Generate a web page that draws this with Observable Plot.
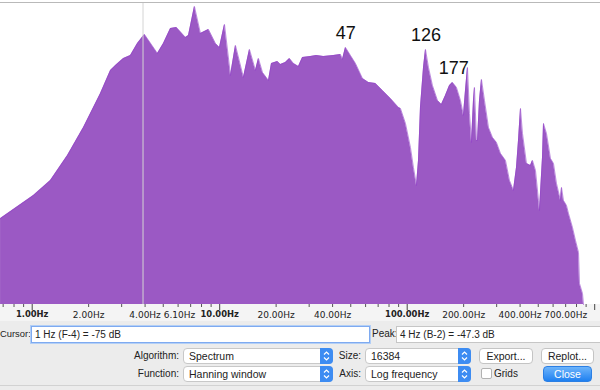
<!DOCTYPE html>
<html><head><meta charset="utf-8">
<script src="https://cdn.jsdelivr.net/npm/d3@7"></script>
<script src="https://cdn.jsdelivr.net/npm/@observablehq/plot@0.6"></script>
<style>
html,body{margin:0;padding:0;}
body{width:600px;height:390px;background:#ececec;position:relative;overflow:hidden;font-family:"Liberation Sans",Arial,sans-serif;font-size:10px;color:#222;}
#chartbg{position:absolute;left:0;top:0;width:600px;height:304px;background:#fff;}
#axisbg{position:absolute;left:0;top:304px;width:600px;height:17px;background:#f4f4f4;}
#topline{position:absolute;left:0;top:2px;width:600px;height:1px;background:#b9b9b9;z-index:2;}
#chart{position:absolute;left:0;top:0;z-index:1;}
.lbl{position:absolute;white-space:nowrap;line-height:16px;height:16px;}
.box{position:absolute;background:#fff;box-sizing:border-box;border:1px solid #c6c6c6;line-height:15px;padding-left:3px;white-space:nowrap;font-size:10px;}
.sel{position:absolute;background:#fff;box-sizing:border-box;border:1px solid #c8c8c8;border-radius:4px;height:16px;line-height:14px;padding-left:5px;font-size:10.5px;white-space:nowrap;}
.step{position:absolute;right:-1px;top:-1px;width:13px;height:16px;background:#3d8cf2;border-radius:0 4px 4px 0;}
.step svg{display:block;}
.btn{position:absolute;background:#fff;box-sizing:border-box;border:1px solid #c4c4c4;border-radius:4px;height:16px;line-height:14px;text-align:center;font-size:10.5px;}
.close{background:linear-gradient(#6db4fb,#1f80f0);border-color:#2b7fe4;color:#fff;}
.chk{position:absolute;box-sizing:border-box;width:11px;height:11px;background:#fff;border:1px solid #b2b2b2;border-radius:2px;}
#sep{position:absolute;left:0;top:385px;width:600px;height:1px;background:#d2d2d2;}
</style>
</head>
<body>
<div id="chartbg"></div>
<div id="axisbg"></div>
<div id="topline"></div>
<div id="chart"></div>

<div class="lbl" style="left:0;top:326px;font-size:9.4px;">Cursor:</div>
<div class="box" style="left:31px;top:326px;width:339px;height:17px;border-color:#7eaaf0;box-shadow:0 0 0 1px #b3cff6;">1 Hz (F-4) = -75 dB</div>
<div class="lbl" style="left:372px;top:326px;">Peak:</div>
<div class="box" style="left:396px;top:326px;width:206px;height:17px;">4 Hz (B-2) = -47.3 dB</div>

<div class="lbl" style="right:421px;top:348px;">Algorithm:</div>
<div class="sel" style="left:183px;top:348px;width:150px;">Spectrum<div class="step"><svg width="13" height="16"><path d="M4 6.5L6.5 4L9 6.5M4 9.5L6.5 12L9 9.5" stroke="#fff" fill="none" stroke-width="1.2"/></svg></div></div>
<div class="lbl" style="right:239px;top:348px;">Size:</div>
<div class="sel" style="left:365px;top:348px;width:106px;">16384<div class="step"><svg width="13" height="16"><path d="M4 6.5L6.5 4L9 6.5M4 9.5L6.5 12L9 9.5" stroke="#fff" fill="none" stroke-width="1.2"/></svg></div></div>
<div class="btn" style="left:479px;top:348px;width:54px;">Export...</div>
<div class="btn" style="left:541px;top:348px;width:53px;">Replot...</div>

<div class="lbl" style="right:421px;top:366px;">Function:</div>
<div class="sel" style="left:183px;top:366px;width:150px;">Hanning window<div class="step"><svg width="13" height="16"><path d="M4 6.5L6.5 4L9 6.5M4 9.5L6.5 12L9 9.5" stroke="#fff" fill="none" stroke-width="1.2"/></svg></div></div>
<div class="lbl" style="right:239px;top:366px;">Axis:</div>
<div class="sel" style="left:365px;top:366px;width:106px;">Log frequency<div class="step"><svg width="13" height="16"><path d="M4 6.5L6.5 4L9 6.5M4 9.5L6.5 12L9 9.5" stroke="#fff" fill="none" stroke-width="1.2"/></svg></div></div>
<div class="chk" style="left:481px;top:368px;"></div>
<div class="lbl" style="left:494px;top:366px;">Grids</div>
<div class="btn close" style="left:543px;top:366px;width:49px;">Close</div>
<div id="sep"></div>

<script>
// Spectrum (frequency in Hz, level in dB)
const freqHz = [
  0.678, 1.016, 1.252, 1.543, 1.878, 2.314, 2.616, 2.782, 3.069, 3.344,
  3.644, 3.972, 4.659, 5.015, 5.467, 5.884, 6.572, 6.819, 7.337, 7.898,
  8.715, 9.497, 9.975, 10.61, 11.42, 12.14, 13.39, 14.42, 15.52, 16.10,
  16.92, 18.21, 18.89, 20.34, 21.10, 22.43, 23.57, 24.75, 26.32, 27.65,
  30.50, 32.83, 35.78, 40.46, 44.09, 45.18, 46.87, 49.84, 53.01, 57.76,
  62.19, 67.76, 73.85, 81.45, 89.86, 92.10, 97.93, 104.1, 108.0, 112.1,
  114.9, 117.7, 122.2, 125.2, 129.9, 136.4, 145.1, 152.4, 160.1, 168.2,
  174.4, 183.2, 192.4, 199.6, 204.6, 209.7, 214.9, 220.3, 225.7, 228.5,
  234.2, 237.1, 243.0, 249.0, 258.4, 271.4, 285.0, 299.4, 314.5, 334.4,
  351.3, 368.9, 382.8, 392.3, 402.1, 412.1, 432.8, 454.6, 465.9, 483.4,
  501.5, 507.7, 526.8, 533.3, 553.3, 581.2, 603.0, 625.6, 657.1, 665.3,
  681.8, 707.4, 725.0, 761.5, 790.1, 819.8, 829.9, 860.9, 871.5
];
const levelDb = [
  -87.4, -82.8, -79.8, -74.8, -69.2, -62.4, -57.8, -56.8, -55.4, -54.8,
  -52.4, -50.6, -54.4, -52.4, -49.4, -49.2, -51.2, -50.8, -45.0, -50.4,
  -49.6, -52.4, -53.2, -48.6, -58.8, -52.8, -59.2, -53.6, -57.8, -55.4,
  -58.2, -59.8, -56.4, -56.0, -56.6, -56.2, -55.4, -56.4, -57.0, -55.2,
  -55.0, -54.8, -55.0, -54.8, -54.6, -55.6, -53.2, -54.8, -56.4, -59.4,
  -60.2, -60.4, -61.8, -63.4, -65.2, -65.4, -68.4, -73.2, -77.2, -80.8,
  -75.8, -65.2, -57.2, -53.6, -57.2, -60.8, -63.8, -64.6, -62.8, -60.8,
  -60.2, -61.2, -63.8, -66.8, -61.8, -57.2, -66.4, -72.2, -63.8, -61.2,
  -71.8, -71.8, -63.8, -59.6, -63.8, -69.2, -71.2, -72.2, -74.4, -75.8,
  -79.8, -81.8, -77.2, -71.8, -65.4, -70.4, -76.4, -76.8, -75.8, -77.8,
  -83.8, -85.8, -75.2, -68.4, -70.4, -75.4, -76.4, -80.4, -83.8, -81.2,
  -83.8, -84.8, -86.4, -89.2, -91.8, -94.2, -100.4, -102.4, -104.6
];

// Annotated peaks
const peakLabels = ["47", "126", "177"];
const peakFreq = [47, 126, 177];
const peakDb = [-53.2, -53.6, -60.2];

// Cursor position (Hz)
const cursorFreq = [3.9];

// Axis ticks
const minorTicks = [0.7, 0.8, 0.9, 2, 3, 4, 5, 6, 7, 8, 9, 20, 30, 40, 50, 60, 70, 80, 90,
  200, 300, 400, 500, 600, 700, 800, 900];
const decadeTicks = [1, 10, 100, 1000];
const boldLabelTicks = [1, 10, 100];
const plainLabelTicks = [2, 4, 6.1, 20, 40, 200, 400, 700];

const dbDomain = [-104.6, -44.4];
const freqDomain = [0.6776, 1073.8];

const spectrum = freqHz.map((f, i) => ({f, db: levelDb[i]}));
const peaks = peakLabels.map((t, i) => ({t, f: peakFreq[i], db: peakDb[i]}));
const fmt = d => d.toFixed(2) + "Hz";
const axisFont = "'DejaVu Sans', Verdana, sans-serif";

const chart = Plot.plot({
  width: 600,
  height: 322,
  marginTop: 3,
  marginBottom: 18,
  marginLeft: 0,
  marginRight: 0,
  style: {background: "transparent", fontFamily: axisFont, fontSize: "9px", color: "#222", overflow: "visible"},
  x: {type: "log", domain: freqDomain, label: null},
  y: {domain: dbDomain, axis: null},
  marks: [
    Plot.areaY(spectrum, {x: "f", y1: dbDomain[0], y2: "db", fill: "#9b59c4"}),
    Plot.line(spectrum, {x: "f", y: "db", stroke: "#9444c9", strokeWidth: 0.6}),
    Plot.ruleX(cursorFreq, {stroke: "#d4d4d4", strokeWidth: 1}),
    Plot.text(peaks, {x: "f", y: "db", text: "t", dy: -9, lineAnchor: "bottom",
      fontSize: 18, fontFamily: "'Liberation Sans', Arial, sans-serif", fill: "#111"}),
    Plot.axisX({ticks: minorTicks, tickSize: 3, tickFormat: () => "", label: null, color: "#555"}),
    Plot.axisX({ticks: decadeTicks, tickSize: 6, tickFormat: () => "", label: null, color: "#444"}),
    Plot.text(boldLabelTicks, {x: d => d, text: fmt, frameAnchor: "bottom", lineAnchor: "top", dy: 7,
      fontSize: 8.4, fontWeight: "bold", fontFamily: axisFont, fill: "#222"}),
    Plot.text(plainLabelTicks, {x: d => d, text: fmt, frameAnchor: "bottom", lineAnchor: "top", dy: 7,
      fontSize: 9, fontFamily: axisFont, fill: "#222"})
  ]
});
document.getElementById("chart").appendChild(chart);
</script>
</body></html>
